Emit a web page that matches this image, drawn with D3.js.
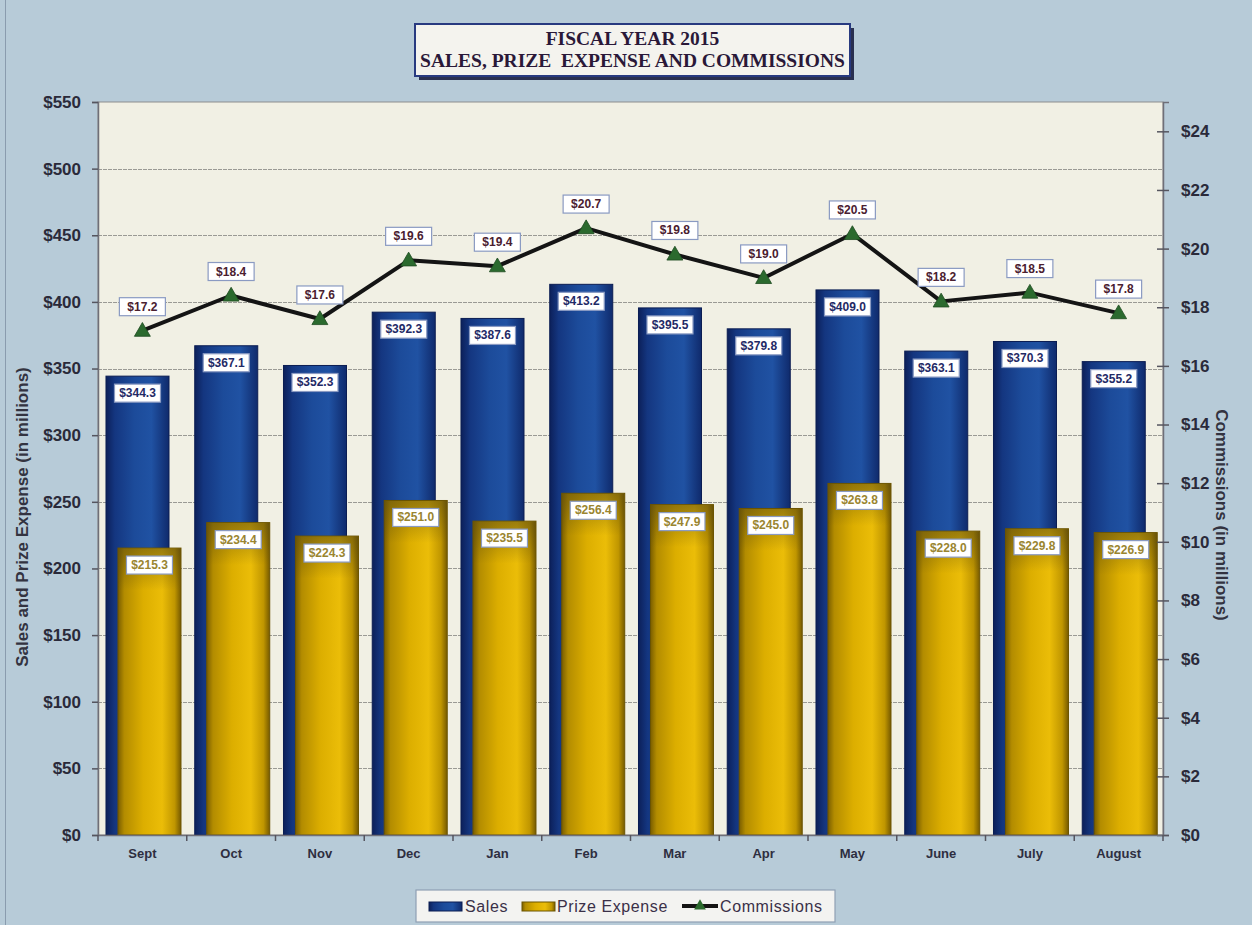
<!DOCTYPE html>
<html>
<head>
<meta charset="utf-8">
<script src="https://cdn.jsdelivr.net/npm/d3@7"></script>
<style>
  html, body { margin: 0; padding: 0; background: #b7cbd8; }
  svg { display: block; }
</style>
</head>
<body>
<svg id="chart" width="1252" height="925"></svg>
<script>
// Monthly figures, fiscal year 2015 (millions of dollars)
const months = ["Sept", "Oct", "Nov", "Dec", "Jan", "Feb", "Mar", "Apr", "May", "June", "July", "August"];
const sales = [344.3, 367.1, 352.3, 392.3, 387.6, 413.2, 395.5, 379.8, 409.0, 363.1, 370.3, 355.2];
const prizeExpense = [215.3, 234.4, 224.3, 251.0, 235.5, 256.4, 247.9, 245.0, 263.8, 228.0, 229.8, 226.9];
const commissions = [17.2, 18.4, 17.6, 19.6, 19.4, 20.7, 19.8, 19.0, 20.5, 18.2, 18.5, 17.8];

const leftTicks = [0, 50, 100, 150, 200, 250, 300, 350, 400, 450, 500, 550];
const rightTicks = [0, 2, 4, 6, 8, 10, 12, 14, 16, 18, 20, 22, 24];
const titleLines = ["FISCAL YEAR 2015", "SALES, PRIZE  EXPENSE AND COMMISSIONS"];

const svg = d3.select("#chart");
const W = 1252, H = 925;
const plot = { left: 98, right: 1163, top: 102, bottom: 835 };

const x = d3.scaleBand().domain(months).range([plot.left, plot.right]).padding(0);
const yL = d3.scaleLinear().domain([0, 550]).range([plot.bottom, plot.top]);
const yR = d3.scaleLinear().domain([0, 25]).range([plot.bottom, plot.top]);
const money = v => "$" + v.toFixed(1);

// ---- gradients for the bar fills
const defs = svg.append("defs");
function grad(id, stops, vertical) {
  const g = defs.append("linearGradient").attr("id", id)
    .attr("x1", "0%").attr("x2", vertical ? "0%" : "100%")
    .attr("y1", "0%").attr("y2", vertical ? "100%" : "0%");
  stops.forEach(([o, c, a]) => g.append("stop").attr("offset", o)
    .attr("stop-color", c).attr("stop-opacity", a == null ? 1 : a));
}
grad("gBlue", [["0%", "#0c205a"], ["14%", "#143680"], ["45%", "#1c4b9a"], ["72%", "#2052a3"], ["100%", "#0f2a6c"]]);
grad("gGold", [["0%", "#7a5e00"], ["10%", "#b38c00"], ["40%", "#dcae00"], ["70%", "#ebbd08"], ["90%", "#c09600"], ["100%", "#765a00"]]);
grad("gGoldShade", [["0%", "#5a4a10", 0.55], ["100%", "#5a4a10", 0]], true);

// ---- background
svg.append("rect").attr("width", W).attr("height", H).attr("fill", "#b7cbd8");
svg.append("line").attr("x1", 5.5).attr("x2", 5.5).attr("y1", 0).attr("y2", H)
  .attr("stroke", "#8a9cae").attr("stroke-width", 1);

// ---- plot area
svg.append("rect")
  .attr("x", plot.left).attr("y", plot.top)
  .attr("width", plot.right - plot.left).attr("height", plot.bottom - plot.top)
  .attr("fill", "#f1f0e4").attr("stroke", "#8d8d8d").attr("stroke-width", 1);

// gridlines
svg.append("g").selectAll("line")
  .data(leftTicks.filter(d => d > 0 && d < 550))
  .join("line")
  .attr("x1", plot.left).attr("x2", plot.right)
  .attr("y1", d => Math.round(yL(d)) + 0.5).attr("y2", d => Math.round(yL(d)) + 0.5)
  .attr("stroke", "#9a9a94").attr("stroke-width", 1).attr("stroke-dasharray", "4,1");

// ---- sales bars (behind)
const band = x.bandwidth();
svg.append("g").selectAll("rect")
  .data(months.map((m, i) => ({ m, v: sales[i] })))
  .join("rect")
  .attr("x", d => x(d.m) + band * 0.09)
  .attr("width", band * 0.71)
  .attr("y", d => yL(d.v))
  .attr("height", d => yL(0) - yL(d.v))
  .attr("fill", "url(#gBlue)")
  .attr("stroke", "#0b1d52").attr("stroke-width", 1);

// ---- prize expense bars (front), darker toward the top like a shaded cylinder
const prizeData = months.map((m, i) => ({ m, v: prizeExpense[i] }));
const gp = svg.append("g");
gp.selectAll("rect.body")
  .data(prizeData)
  .join("rect").attr("class", "body")
  .attr("x", d => x(d.m) + band * 0.225)
  .attr("width", band * 0.71)
  .attr("y", d => yL(d.v))
  .attr("height", d => yL(0) - yL(d.v))
  .attr("fill", "url(#gGold)")
  .attr("stroke", "#6b5400").attr("stroke-width", 1);
gp.selectAll("rect.shade")
  .data(prizeData)
  .join("rect").attr("class", "shade")
  .attr("x", d => x(d.m) + band * 0.225 + 0.5)
  .attr("width", band * 0.71 - 1)
  .attr("y", d => yL(d.v) + 0.5)
  .attr("height", d => Math.min(42, yL(0) - yL(d.v)))
  .attr("fill", "url(#gGoldShade)");

// ---- axes
const axisColor = "#2a2a3a";
const gLeft = svg.append("g").attr("transform", `translate(${plot.left},0)`)
  .call(d3.axisLeft(yL).tickValues(leftTicks).tickFormat(d => "$" + d).tickSize(6).tickPadding(11));
const gRight = svg.append("g").attr("transform", `translate(${plot.right},0)`)
  .call(d3.axisRight(yR).tickValues(rightTicks).tickFormat(d => "$" + d).tickSize(6).tickPadding(12));
gRight.selectAll(".tick line").attr("x1", -6);
[gLeft, gRight].forEach(g => {
  g.select(".domain").attr("stroke", "#6f6f78").attr("stroke-width", 1.5);
  g.selectAll(".tick line").attr("stroke", "#55555f").attr("stroke-width", 1.5);
  g.selectAll(".tick text")
    .attr("fill", axisColor)
    .style("font-family", "'Liberation Sans', Arial, sans-serif")
    .style("font-weight", "bold").style("font-size", "17px");
});

const gBottom = svg.append("g").attr("transform", `translate(0,${plot.bottom})`)
  .call(d3.axisBottom(x).tickSize(0).tickPadding(14));
gBottom.select(".domain").attr("stroke", "#6f6f78").attr("stroke-width", 1.5);
gBottom.selectAll(".tick text")
  .attr("fill", "#2e2e40")
  .style("font-family", "'Liberation Sans', Arial, sans-serif")
  .style("font-weight", "bold").style("font-size", "13px");
// category boundary ticks
gBottom.append("g").selectAll("line")
  .data(months.map(m => x(m)).concat([plot.right]))
  .join("line")
  .attr("x1", d => d).attr("x2", d => d).attr("y1", 0).attr("y2", 6)
  .attr("stroke", "#55555f").attr("stroke-width", 1.5);

// axis titles
svg.append("text")
  .attr("transform", `translate(24,${517}) rotate(-90)`)
  .attr("text-anchor", "middle").attr("dominant-baseline", "middle")
  .attr("fill", "#333340")
  .style("font-family", "'Liberation Sans', Arial, sans-serif")
  .style("font-weight", "bold").style("font-size", "17px")
  .text("Sales and Prize Expense (in millions)");
svg.append("text")
  .attr("transform", `translate(1220,${515}) rotate(90)`)
  .attr("text-anchor", "middle").attr("dominant-baseline", "middle")
  .attr("fill", "#333340")
  .style("font-family", "'Liberation Sans', Arial, sans-serif")
  .style("font-weight", "bold").style("font-size", "17px")
  .text("Commissions (in millions)");

// ---- commissions line
const cx = m => x(m) + band / 2;
const lineData = months.map((m, i) => ({ m, v: commissions[i] }));
svg.append("path")
  .datum(lineData)
  .attr("d", d3.line().x(d => cx(d.m)).y(d => yR(d.v)))
  .attr("fill", "none").attr("stroke", "#141414").attr("stroke-width", 4)
  .attr("stroke-linejoin", "round");
const tri = d3.symbol().type(d3.symbolTriangle).size(110);
svg.append("g").selectAll("path")
  .data(lineData)
  .join("path")
  .attr("d", tri)
  .attr("transform", d => `translate(${cx(d.m)},${yR(d.v) + 1})`)
  .attr("fill", "#2b6a2e").attr("stroke", "#1d4a20").attr("stroke-width", 0.8);

// ---- data labels in white boxes
function boxedLabels(data, px, py, color) {
  const g = svg.append("g");
  const items = g.selectAll("g").data(data).join("g")
    .attr("transform", d => `translate(${px(d)},${py(d)})`);
  items.append("rect")
    .attr("x", -23).attr("y", -9).attr("width", 46).attr("height", 18)
    .attr("fill", "#ffffff").attr("stroke", "#8a9ac2").attr("stroke-width", 1.2);
  items.append("text")
    .attr("text-anchor", "middle").attr("dominant-baseline", "central")
    .attr("fill", color)
    .style("font-family", "'Liberation Sans Narrow', 'Arial Narrow', 'Liberation Sans', Arial, sans-serif")
    .style("font-weight", "bold").style("font-size", "12px")
    .text(d => money(d.v));
}
boxedLabels(months.map((m, i) => ({ m, v: sales[i] })),
  d => x(d.m) + band * 0.445, d => yL(d.v) + 17, "#1f2a66");
boxedLabels(prizeData,
  d => x(d.m) + band * 0.58, d => yL(d.v) + 17, "#9a8530");
boxedLabels(lineData, d => cx(d.m), d => yR(d.v) - 24, "#4a2030");

// ---- title box
const tb = { x: 415, y: 24, w: 435, h: 52 };
svg.append("rect").attr("x", tb.x + 4).attr("y", tb.y + 4).attr("width", tb.w).attr("height", tb.h)
  .attr("fill", "#2a3050");
svg.append("rect").attr("x", tb.x).attr("y", tb.y).attr("width", tb.w).attr("height", tb.h)
  .attr("fill", "#f4f3ee").attr("stroke", "#283a80").attr("stroke-width", 2);
svg.append("g").selectAll("text").data(titleLines).join("text")
  .attr("x", tb.x + tb.w / 2).attr("y", (d, i) => 45 + i * 22)
  .attr("text-anchor", "middle")
  .attr("fill", "#2a1838")
  .style("font-family", "'Liberation Serif', 'Times New Roman', serif")
  .style("font-weight", "bold").style("font-size", "19.5px")
  .style("white-space", "pre")
  .text(d => d);

// ---- legend
const lg = svg.append("g");
lg.append("rect").attr("x", 416).attr("y", 890).attr("width", 419).attr("height", 32)
  .attr("fill", "#f3f3f1").attr("stroke", "#8fa0b4").attr("stroke-width", 1.2);
const legendFont = g => g
  .attr("fill", "#3a3048")
  .style("font-family", "'Liberation Sans', Arial, sans-serif")
  .style("font-size", "16px").style("letter-spacing", "0.6px");
lg.append("rect").attr("x", 429).attr("y", 902).attr("width", 33).attr("height", 9)
  .attr("fill", "url(#gBlue)").attr("stroke", "#0b1d52");
lg.append("text").attr("x", 465).attr("y", 912).call(legendFont).text("Sales");
lg.append("rect").attr("x", 522).attr("y", 902).attr("width", 33).attr("height", 9)
  .attr("fill", "url(#gGold)").attr("stroke", "#6b5400");
lg.append("text").attr("x", 557).attr("y", 912).call(legendFont).text("Prize Expense");
lg.append("line").attr("x1", 682).attr("x2", 718).attr("y1", 906).attr("y2", 906)
  .attr("stroke", "#141414").attr("stroke-width", 4);
lg.append("path").attr("d", d3.symbol().type(d3.symbolTriangle).size(60))
  .attr("transform", "translate(700,906)").attr("fill", "#2b6a2e");
lg.append("text").attr("x", 720).attr("y", 912).call(legendFont).text("Commissions");
</script>
</body>
</html>
